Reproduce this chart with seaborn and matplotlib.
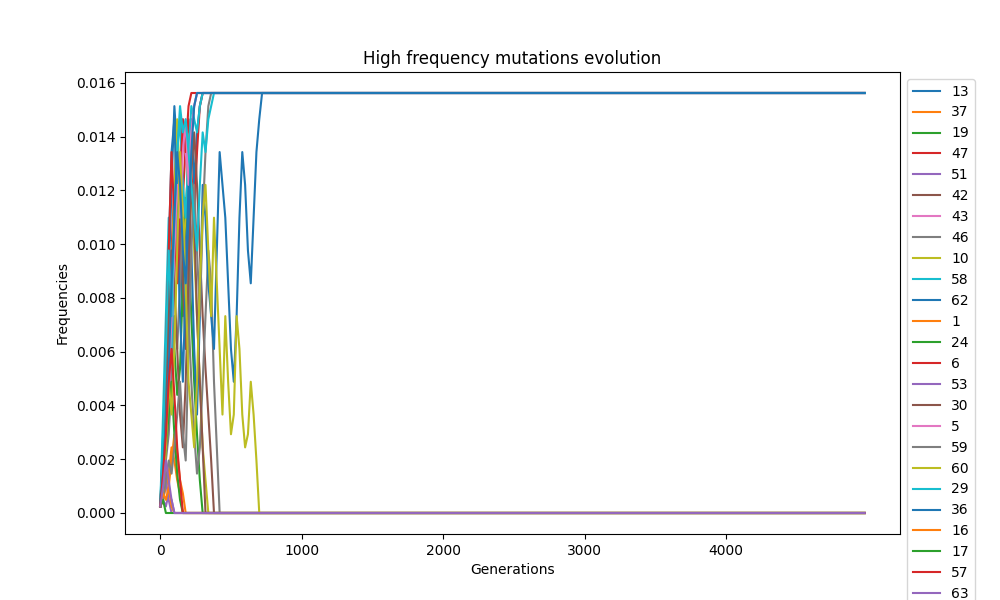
import matplotlib
matplotlib.use("Agg")
import matplotlib.pyplot as plt
import seaborn as sns
import numpy as np
import pandas as pd

step = 20
n_points = 250
scale = 4096
labels = ["13","37","19","47","51","42","43","46","10","58","62","1","24","6","53","30","5","59","60","29","36","16","17","57","63"]
s13 = [1,8,20,35,50,62,55,40,30,45,55,60,50,58,62,64]
s37 = [1,3,6,4,8,12,9,5,3,0]
s19 = [1,5,12,20,30,25,18,22,35,48,40,30,20,12,5,0]
s47 = [1,6,15,28,40,50,45,35,48,56,60,52,45,55,62,64]
s51 = [1,2,1,3,2,0]
s42 = [1,10,20,15,30,45,55,48,35,25,40,52,58,50,40,30,22,15,8,0]
s43 = [1,4,10,18,25,35,45,52,60,55,50,58,62,64]
s46 = [1,3,8,12,20,30,25,35,45,40,30,20,12,6,10,20,30,40,35,20,10,0]
s10 = [1,4,10,20,35,50,60,50,40,45,55,50,40,30,20,10,5,0]
s58 = [1,15,30,45,25,40,55,60,50,45,55,62,60,58,62,64]
s62 = [1,8,20,40,55,60,45,30,20,35,50,40,25,15,30,50,45,35,30,25,40,55,50,45,35,25,20,30,45,55,50,40,35,45,55,60,64]
s1 = [1,2,4,6,10,8,5,3,0]
s24 = [1,5,10,15,20,12,6,2,0]
s6 = [1,10,25,40,55,45,35,50,60,55,62,64]
s53 = [1,3,5,2,0]
s30 = [1,8,20,30,40,35,25,15,10,20,35,50,45,30,20,10,0]
s5 = [1,5,12,20,30,40,50,45,55,60,50,58,62,64]
s59 = [1,2,5,8,6,10,15,20,12,8,25,40,50,40,30,45,55,62,64]
s60 = [1,4,10,20,15,25,40,55,45,35,20,15,10,20,35,45,50,40,30,45,35,25,15,30,20,12,15,30,25,15,10,12,20,15,8,0]
s29 = [1,12,25,40,30,45,55,62,58,60,55,50,45,40,50,58,55,60,62,64]
s36 = [1,6,14,22,35,45,55,50,40,35,45,55,62,64]
s16 = [1,3,2,4,1,0]
s17 = [1,2,0]
s57 = [1,6,12,20,25,18,10,5,0]
s63 = [1,4,8,5,2,0]
series = [s13,s37,s19,s47,s51,s42,s43,s46,s10,s58,s62,s1,s24,s6,s53,s30,s5,s59,s60,s29,s36,s16,s17,s57,s63]

fig, ax = plt.subplots(figsize=(10, 6), dpi=100)
pal = sns.color_palette("tab10")
gens = np.arange(n_points) * step
for i, (lab, s) in enumerate(zip(labels, series)):
    vals = np.array(list(s) + [s[-1]] * (n_points - len(s))) / scale
    sns.lineplot(x=gens, y=vals, ax=ax, color=pal[i % 10], label=lab)
ax.set_title("High frequency mutations evolution")
ax.set_xlabel("Generations")
ax.set_ylabel("Frequencies")
ax.set_xticks([0, 1000, 2000, 3000, 4000])
ax.legend(loc="upper left", bbox_to_anchor=(1.0, 1.0))
fig.subplots_adjust(left=0.125, right=0.9, top=0.88, bottom=0.11)
fig.savefig("out.png")
